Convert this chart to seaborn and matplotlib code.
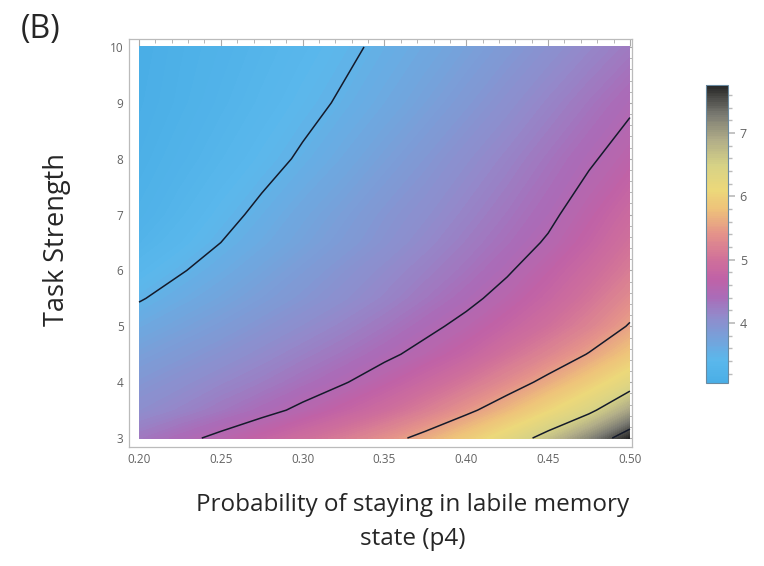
import numpy as np
import pandas as pd
import seaborn as sns
import matplotlib
matplotlib.use("Agg")
import matplotlib.pyplot as plt
from matplotlib.colors import LinearSegmentedColormap
from matplotlib.ticker import MultipleLocator

# values (rows = task strength, cols = p4)
p4 = [0.200, 0.225, 0.250, 0.275, 0.300, 0.325, 0.350,
      0.375, 0.400, 0.425, 0.450, 0.475, 0.500]
strength = [3, 3.5, 4, 4.5, 5, 5.5, 6, 6.5, 7, 8, 9, 10]
z_rows = [
    [4.28, 4.42, 4.57, 4.74, 4.94, 5.14, 5.36, 5.61, 5.90, 6.24, 6.66, 7.16, 7.76],  # 3
    [4.05, 4.16, 4.28, 4.41, 4.56, 4.74, 4.93, 5.16, 5.42, 5.71, 6.04, 6.40, 6.95],  # 3.5
    [3.92, 4.02, 4.13, 4.23, 4.35, 4.48, 4.65, 4.85, 5.07, 5.32, 5.60, 5.92, 6.29],  # 4
    [3.78, 3.88, 3.98, 4.09, 4.20, 4.31, 4.44, 4.59, 4.77, 5.01, 5.25, 5.52, 5.85],  # 4.5
    [3.63, 3.74, 3.84, 3.95, 4.06, 4.17, 4.29, 4.43, 4.58, 4.77, 4.98, 5.23, 5.53],  # 5
    [3.48, 3.60, 3.71, 3.82, 3.93, 4.04, 4.16, 4.29, 4.43, 4.60, 4.80, 5.04, 5.32],  # 5.5
    [3.36, 3.48, 3.60, 3.72, 3.84, 3.96, 4.08, 4.20, 4.32, 4.47, 4.67, 4.89, 5.14],  # 6
    [3.25, 3.37, 3.50, 3.62, 3.74, 3.86, 3.98, 4.11, 4.24, 4.37, 4.53, 4.75, 5.00],  # 6.5
    [3.18, 3.30, 3.43, 3.55, 3.68, 3.80, 3.93, 4.04, 4.17, 4.30, 4.44, 4.65, 4.88],  # 7
    [3.11, 3.21, 3.31, 3.42, 3.53, 3.65, 3.78, 3.91, 4.04, 4.17, 4.31, 4.46, 4.64],  # 8
    [3.07, 3.15, 3.24, 3.33, 3.43, 3.53, 3.64, 3.76, 3.89, 4.02, 4.16, 4.30, 4.45],  # 9
    [3.05, 3.13, 3.20, 3.28, 3.36, 3.45, 3.55, 3.65, 3.76, 3.88, 4.00, 4.13, 4.26],  # 10
]
contour_levels = [3.5, 4.5, 5.5, 6.5, 7.5]
cbar_ticks = [4, 5, 6, 7]
zmin, zmax = 3.05, 7.76

# colour stops (value, colour) of the legend bar
stop_vals = [3.05, 3.4, 3.8, 4.1, 4.4, 4.7, 5.0, 5.4, 5.8, 6.1, 6.5, 6.9, 7.3, 7.76]
stop_cols = ["#4aaee6", "#5ab8ec", "#7a9ed8", "#928acb", "#aa6cb8", "#c062a6",
             "#d0709a", "#e4928a", "#eec27a", "#ecd87a", "#d6d286", "#b0ac88",
             "#7a7a72", "#262626"]

df = pd.DataFrame(z_rows, index=strength, columns=p4)

sns.set_theme(style="white")
plt.rcParams["font.family"] = ["Open Sans", "DejaVu Sans"]

pos = [(v - zmin) / (zmax - zmin) for v in stop_vals]
cmap = LinearSegmentedColormap.from_list("mma", list(zip(pos, stop_cols)))

fig = plt.figure(figsize=(7.64, 5.66), dpi=100)
ax = fig.add_axes([0.1689, 0.2102, 0.6582, 0.7209])
cax = fig.add_axes([0.924, 0.3233, 0.0288, 0.5265])

X, Y = np.meshgrid(df.columns.values, df.index.values)
Z = df.values
cf = ax.contourf(X, Y, Z, levels=np.linspace(zmin, zmax, 160), cmap=cmap,
                 vmin=zmin, vmax=zmax, antialiased=False)
ax.contour(X, Y, Z, levels=contour_levels, colors="#141a2a", linewidths=1.1)

ax.set_xlim(0.1939, 0.5012)
ax.set_ylim(2.84, 10.143)
ax.set_xticks([0.20, 0.25, 0.30, 0.35, 0.40, 0.45, 0.50])
ax.set_xticklabels(["0.20", "0.25", "0.30", "0.35", "0.40", "0.45", "0.50"])
ax.set_yticks([3, 4, 5, 6, 7, 8, 9, 10])
ax.xaxis.set_minor_locator(MultipleLocator(0.01))
ax.yaxis.set_minor_locator(MultipleLocator(0.2))
ax.tick_params(which="both", direction="in", top=True, right=True,
               color="#aaaaaa", labelcolor="#636363", labelsize=8.5,
               labeltop=False, labelright=False)
ax.tick_params(which="major", length=5, width=0.8, pad=4)
ax.tick_params(which="minor", length=3, width=0.6)
for s in ax.spines.values():
    s.set_color("#bbbbbb")
    s.set_linewidth(0.9)

cb = fig.colorbar(cf, cax=cax, ticks=cbar_ticks)
cb.ax.set_ylim(zmin, zmax)
cb.ax.yaxis.set_minor_locator(MultipleLocator(0.2))
cb.ax.tick_params(which="both", direction="out", color="#bbbbbb",
                  labelcolor="#636363", labelsize=9)
cb.ax.tick_params(which="major", length=5)
cb.ax.tick_params(which="minor", length=3)
cb.outline.set_edgecolor("#6a8aa0")
cb.outline.set_linewidth(0.8)

fig.text(0.027, 0.948, "(B)", fontsize=23, va="center", ha="left")
fig.text(0.075, 0.576, "Task Strength", fontsize=19.5, rotation=90,
         va="center", ha="center")
fig.text(0.5406, 0.077, "Probability of staying in labile memory\nstate (p4)",
         fontsize=17.5, ha="center", va="center", linespacing=1.55)

fig.savefig("out.png", dpi=100)
